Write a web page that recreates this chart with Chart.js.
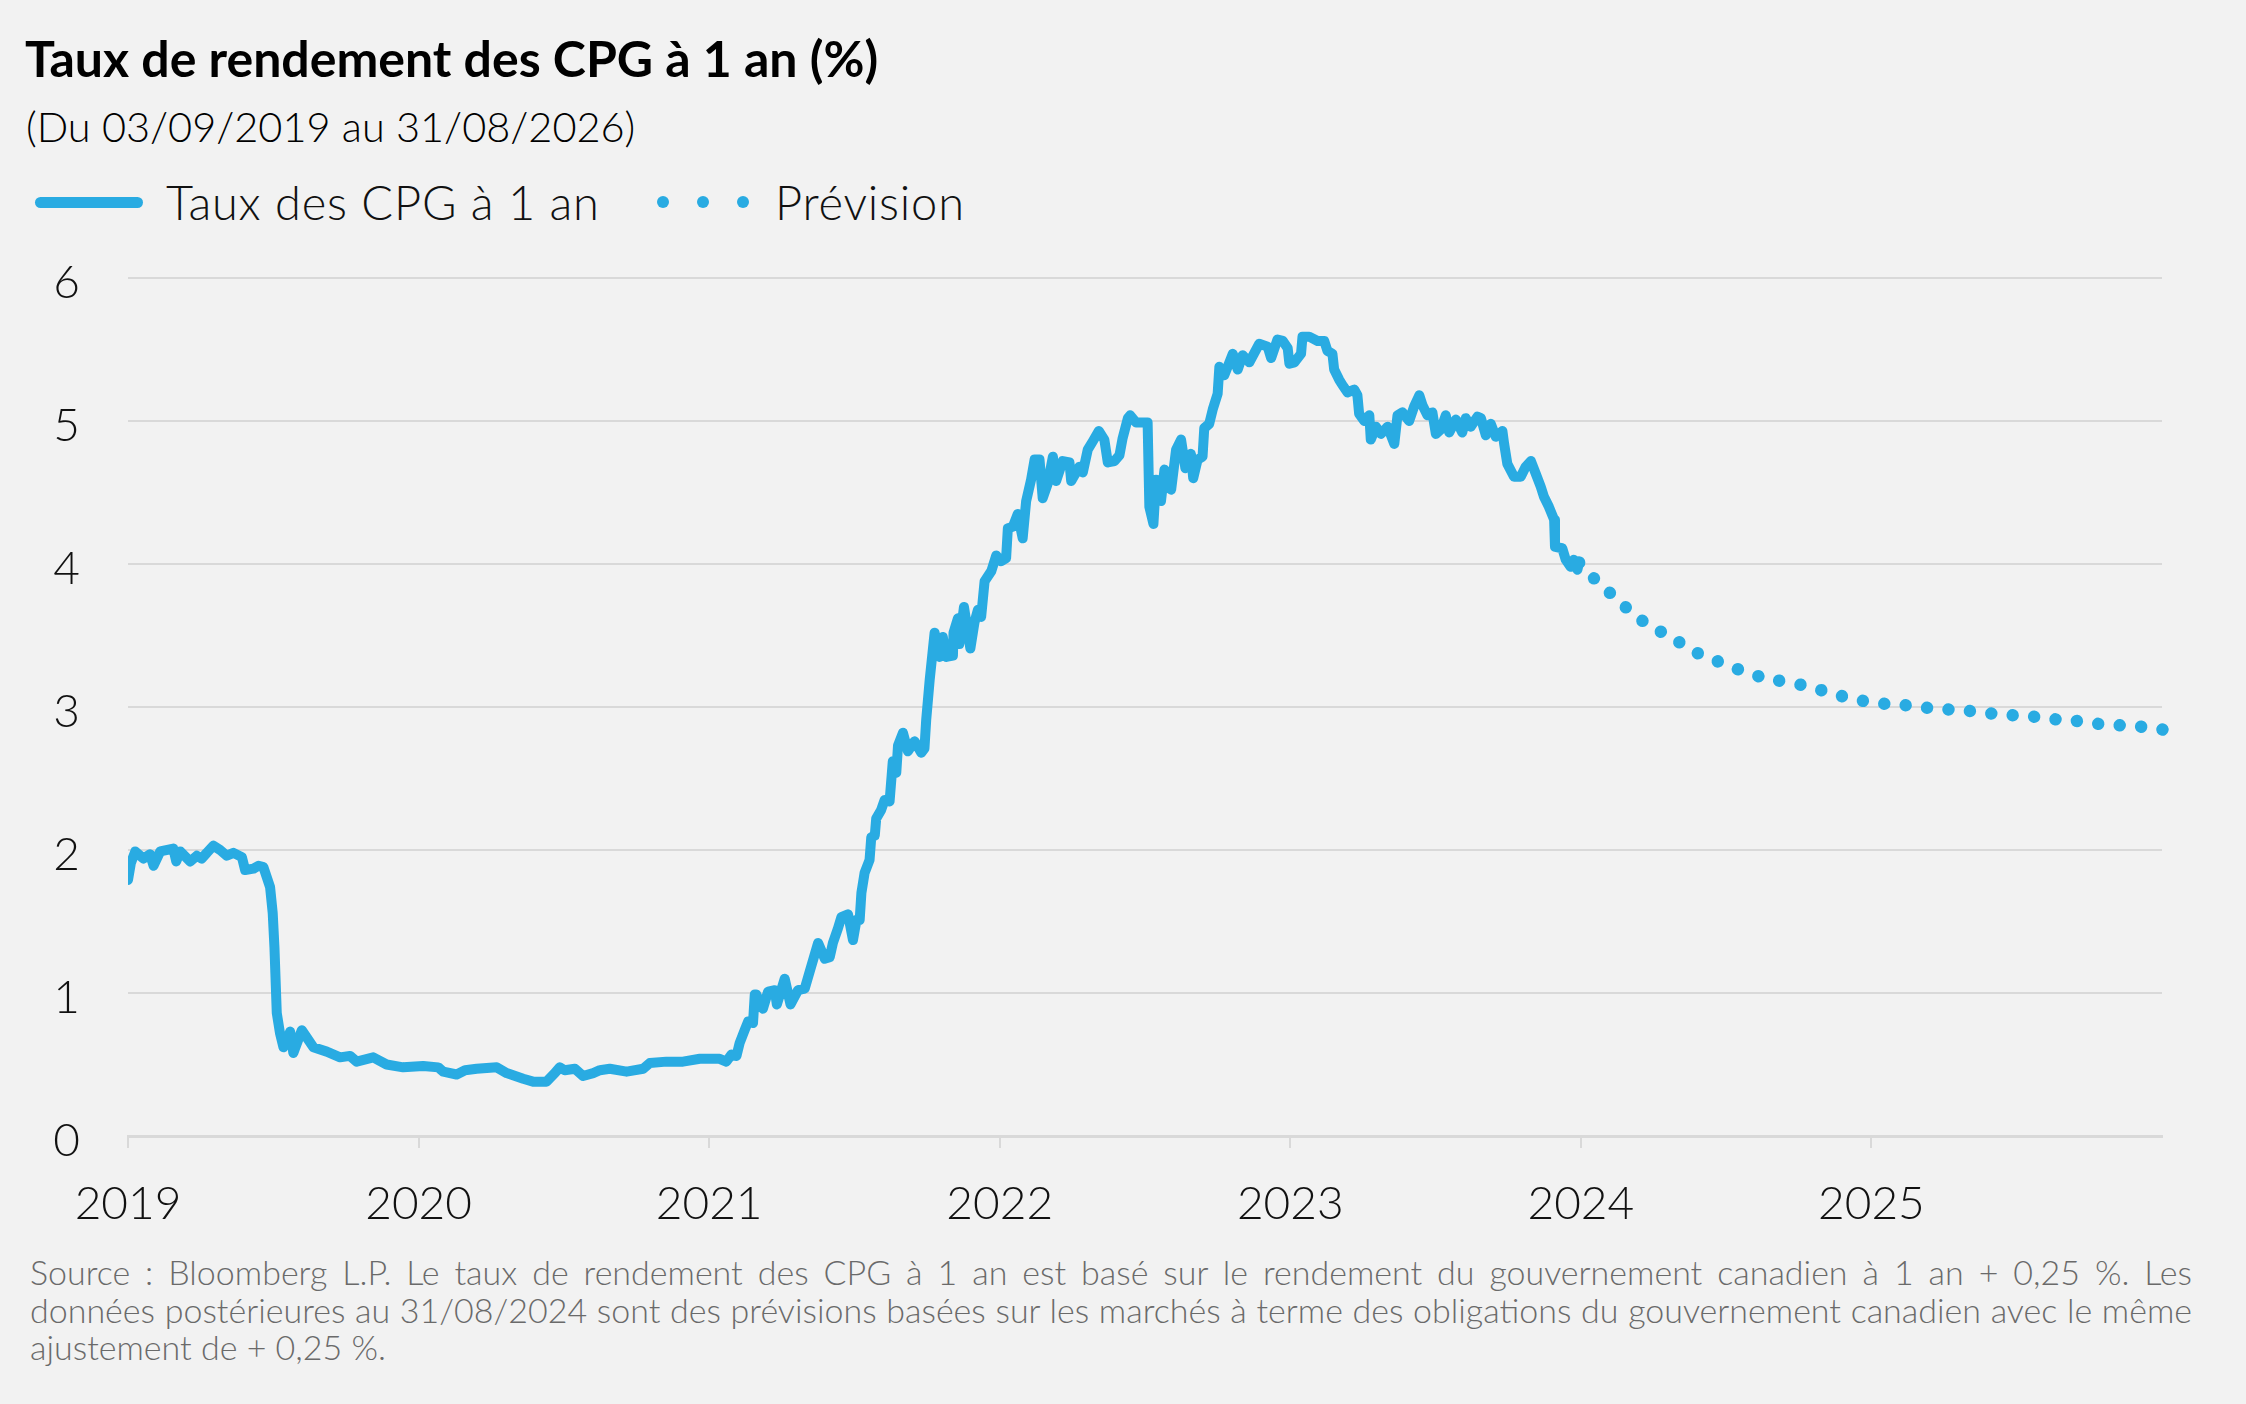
<!DOCTYPE html>
<html lang="fr">
<head>
<meta charset="utf-8">
<script src="https://cdn.jsdelivr.net/npm/chart.js@4.4.1/dist/chart.umd.min.js"></script>
<style>
  html, body { margin: 0; padding: 0; background: #f2f2f2; }
  body { width: 2246px; height: 1404px; position: relative; overflow: hidden; font-family: Lato, "Open Sans", sans-serif; color: #000; }
  .abs { position: absolute; white-space: nowrap; }
  #title { left: 25px; top: 29px; font-size: 50px; font-weight: 700; line-height: 58px; }
  #subtitle { left: 26px; top: 103px; font-size: 41.5px; font-weight: 300; line-height: 46px; color: #000; }
  #legend { left: 0; top: 177px; height: 50px; width: 1200px; }
  .lg-line { position: absolute; left: 35px; top: 20px; width: 108px; height: 11px; border-radius: 6px; background: #29abe2; }
  .lg-dot { position: absolute; top: 19px; width: 12px; height: 12px; border-radius: 50%; background: #29abe2; }
  .lg-text { position: absolute; top: 0; font-size: 47px; line-height: 50px; color: #111; font-weight: 300; letter-spacing: 0.8px; }
  #chartWrap { position: absolute; left: 0; top: 240px; width: 2246px; height: 1000px; }
  #foot { position: absolute; left: 30px; top: 1253px; width: 2162px; font-size: 34px; font-weight: 300; color: #6a6a6a; line-height: 37.5px; }
  #foot div { white-space: nowrap; }
</style>
</head>
<body>
<div id="title" class="abs">Taux de rendement des CPG à 1 an (%)</div>
<div id="subtitle" class="abs">(Du 03/09/2019 au 31/08/2026)</div>
<div id="legend" class="abs">
  <div class="lg-line"></div>
  <div class="lg-text" style="left:166px">Taux des CPG à 1 an</div>
  <div class="lg-dot" style="left:657px"></div>
  <div class="lg-dot" style="left:697px"></div>
  <div class="lg-dot" style="left:737px"></div>
  <div class="lg-text" style="left:775px">Prévision</div>
</div>
<div id="chartWrap"><canvas id="c"></canvas></div>
<div id="foot">
  <div class="j">Source : Bloomberg L.P. Le taux de rendement des CPG à 1 an est basé sur le rendement du gouvernement canadien à 1 an + 0,25 %. Les</div>
  <div class="j">données postérieures au 31/08/2024 sont des prévisions basées sur les marchés à terme des obligations du gouvernement canadien avec le même</div>
  <div>ajustement de + 0,25 %.</div>
</div>
<script>
// ---- Data (x = years elapsed since 03/09/2019) ----
const startYearLabel = 2019;
const yearTicks = [0, 1, 2, 3, 4, 5, 6, 7];
const yTicks = [0, 1, 2, 3, 4, 5, 6];

const actualT = [0.000,0.010,0.025,0.053,0.076,0.088,0.111,0.156,0.166,0.180,0.214,0.237,0.254,0.271,0.294,0.317,0.340,0.363,0.392,0.403,0.432,0.449,0.466,0.489,0.498,0.504,0.512,0.523,0.535,0.558,0.569,0.598,0.615,0.638,0.684,0.730,0.764,0.787,0.844,0.890,0.947,1.016,1.068,1.085,1.131,1.160,1.200,1.269,1.303,1.360,1.394,1.440,1.469,1.486,1.503,1.538,1.566,1.601,1.624,1.658,1.716,1.773,1.796,1.853,1.910,1.968,2.036,2.059,2.077,2.094,2.105,2.122,2.134,2.151,2.157,2.162,2.185,2.203,2.226,2.233,2.260,2.280,2.306,2.329,2.346,2.375,2.398,2.415,2.426,2.443,2.455,2.478,2.495,2.507,2.518,2.524,2.535,2.552,2.558,2.570,2.575,2.592,2.604,2.621,2.632,2.644,2.650,2.667,2.684,2.707,2.730,2.741,2.747,2.759,2.776,2.793,2.804,2.816,2.839,2.841,2.856,2.861,2.877,2.899,2.913,2.925,2.936,2.948,2.971,2.988,3.005,3.022,3.028,3.045,3.062,3.079,3.091,3.108,3.120,3.137,3.148,3.165,3.183,3.194,3.217,3.240,3.246,3.274,3.286,3.303,3.321,3.341,3.360,3.372,3.395,3.412,3.423,3.441,3.449,3.469,3.509,3.515,3.529,3.538,3.555,3.567,3.590,3.607,3.624,3.639,3.658,3.666,3.681,3.698,3.704,3.721,3.733,3.750,3.756,3.773,3.802,3.819,3.836,3.859,3.893,3.922,3.934,3.956,3.974,3.991,3.997,4.014,4.037,4.042,4.065,4.094,4.117,4.128,4.145,4.151,4.168,4.180,4.197,4.220,4.231,4.237,4.255,4.272,4.277,4.295,4.312,4.335,4.358,4.369,4.386,4.409,4.426,4.444,4.455,4.472,4.489,4.501,4.518,4.535,4.547,4.570,4.592,4.604,4.621,4.644,4.656,4.673,4.690,4.707,4.730,4.736,4.747,4.770,4.793,4.810,4.828,4.845,4.862,4.873,4.890,4.908,4.911,4.936,4.948,4.965,4.976,4.988,4.994];
const actualV = [1.79,1.91,1.99,1.94,1.97,1.89,1.99,2.01,1.92,1.99,1.92,1.96,1.94,1.98,2.03,2.00,1.96,1.98,1.95,1.86,1.87,1.89,1.88,1.74,1.56,1.32,0.86,0.72,0.62,0.73,0.58,0.74,0.69,0.62,0.59,0.55,0.56,0.52,0.55,0.50,0.48,0.49,0.48,0.45,0.43,0.46,0.47,0.48,0.44,0.40,0.38,0.38,0.44,0.48,0.46,0.47,0.42,0.44,0.46,0.47,0.45,0.47,0.51,0.52,0.52,0.54,0.54,0.52,0.57,0.56,0.65,0.74,0.80,0.79,0.99,0.99,0.89,1.01,1.02,0.92,1.10,0.92,1.02,1.03,1.15,1.35,1.24,1.25,1.35,1.45,1.53,1.55,1.37,1.51,1.51,1.70,1.84,1.93,2.09,2.10,2.22,2.28,2.35,2.34,2.62,2.54,2.73,2.82,2.69,2.76,2.68,2.71,2.91,3.19,3.52,3.35,3.49,3.35,3.36,3.52,3.62,3.44,3.70,3.41,3.59,3.68,3.63,3.88,3.95,4.06,4.02,4.04,4.25,4.26,4.35,4.18,4.44,4.59,4.73,4.73,4.46,4.56,4.75,4.58,4.72,4.71,4.58,4.68,4.64,4.80,4.86,4.93,4.87,4.71,4.72,4.76,4.88,5.02,5.04,4.99,4.99,4.40,4.28,4.59,4.44,4.66,4.52,4.80,4.87,4.67,4.77,4.60,4.73,4.75,4.95,4.98,5.08,5.19,5.38,5.32,5.47,5.36,5.46,5.41,5.54,5.52,5.44,5.57,5.56,5.51,5.40,5.41,5.47,5.59,5.59,5.56,5.56,5.49,5.47,5.36,5.29,5.25,5.20,5.22,5.18,5.05,5.00,5.04,4.87,4.96,4.91,4.96,4.84,5.04,5.06,5.00,5.10,5.18,5.11,5.04,5.06,4.91,4.94,5.04,4.92,5.01,4.92,5.02,4.96,5.03,5.02,4.90,4.98,4.89,4.93,4.84,4.70,4.61,4.61,4.68,4.72,4.63,4.54,4.47,4.40,4.31,4.12,4.11,4.03,3.98,4.03,3.96,4.01];

const forecastT = [4.994,5.05,5.11,5.17,5.235,5.31,5.388,5.47,5.545,5.62,5.77,5.841,5.91,5.98,6.06,6.13,6.21,6.28,6.35,6.43,6.50,6.57,6.65,6.72,6.79,6.87,6.94,7.01];
const forecastV = [4.01,3.89,3.78,3.67,3.57,3.49,3.39,3.32,3.26,3.21,3.15,3.11,3.07,3.04,3.02,3.01,2.99,2.98,2.97,2.95,2.94,2.93,2.91,2.90,2.88,2.87,2.86,2.84];

const BLUE = '#29abe2';
const GRID = '#d9d9d9';

const actualPts = actualT.map((t, i) => ({ x: t, y: actualV[i] }));
const forecastPts = forecastT.map((t, i) => ({ x: t, y: forecastV[i] }));

// justify the first footnote lines to the full width
(function justifyFoot() {
  const foot = document.getElementById('foot');
  const W = foot.clientWidth;
  foot.querySelectorAll('.j').forEach(el => {
    el.style.display = 'inline-block';
    const natural = el.getBoundingClientRect().width;
    const spaces = (el.textContent.match(/ /g) || []).length;
    el.style.wordSpacing = ((W - natural) / spaces) + 'px';
    el.style.display = 'block';
  });
})();

Chart.defaults.font.family = 'Lato, "Open Sans", sans-serif';
Chart.defaults.color = '#111';

new Chart(document.getElementById('c'), {
  type: 'line',
  data: {
    datasets: [
      { label: 'Taux des CPG à 1 an', data: actualPts, borderColor: BLUE, backgroundColor: BLUE, borderWidth: 10, pointRadius: 0, tension: 0, borderJoinStyle: 'round', borderCapStyle: 'round', fill: false },
      { label: 'Prévision', data: forecastPts, borderColor: BLUE, backgroundColor: BLUE, borderWidth: 12.5, borderDash: [0.001, 21.5], borderCapStyle: 'round', pointRadius: 0, tension: 0.3, fill: false, clip: false }
    ]
  },
  options: {
    responsive: true,
    maintainAspectRatio: false,
    animation: false,
    events: [],
    layout: { padding: { top: 38, right: 84, left: 0, bottom: 0 } },
    plugins: { legend: { display: false }, tooltip: { enabled: false }, title: { display: false } },
    scales: {
      x: {
        type: 'linear',
        min: 0, max: 7,
        afterBuildTicks: (s) => { s.ticks = yearTicks.map(v => ({ value: v })); },
        afterFit: (s) => { s.height = 104; s.paddingLeft = 0; s.paddingRight = 0; },
        border: { display: true, color: GRID, width: 3 },
        grid: { drawOnChartArea: false, drawTicks: true, tickLength: 12, lineWidth: 2,
                color: (ctx) => (ctx.tick && ctx.tick.value === 7) ? 'rgba(0,0,0,0)' : GRID },
        ticks: { padding: 29, maxRotation: 0, autoSkip: false, color: '#111', font: { size: 46, weight: 300 },
                 callback: (v) => (v < 7 ? String(startYearLabel + v) : '') }
      },
      y: {
        min: 0, max: 6,
        afterBuildTicks: (s) => { s.ticks = yTicks.map(v => ({ value: v })); },
        afterFit: (s) => { s.width = 128; s.paddingTop = 0; s.paddingBottom = 0; },
        border: { display: false },
        grid: { drawTicks: false, color: GRID, lineWidth: 2 },
        ticks: { padding: 48, color: '#111', font: { size: 46, weight: 300 }, labelOffset: 5 }
      }
    }
  }
});
</script>
</body>
</html>
